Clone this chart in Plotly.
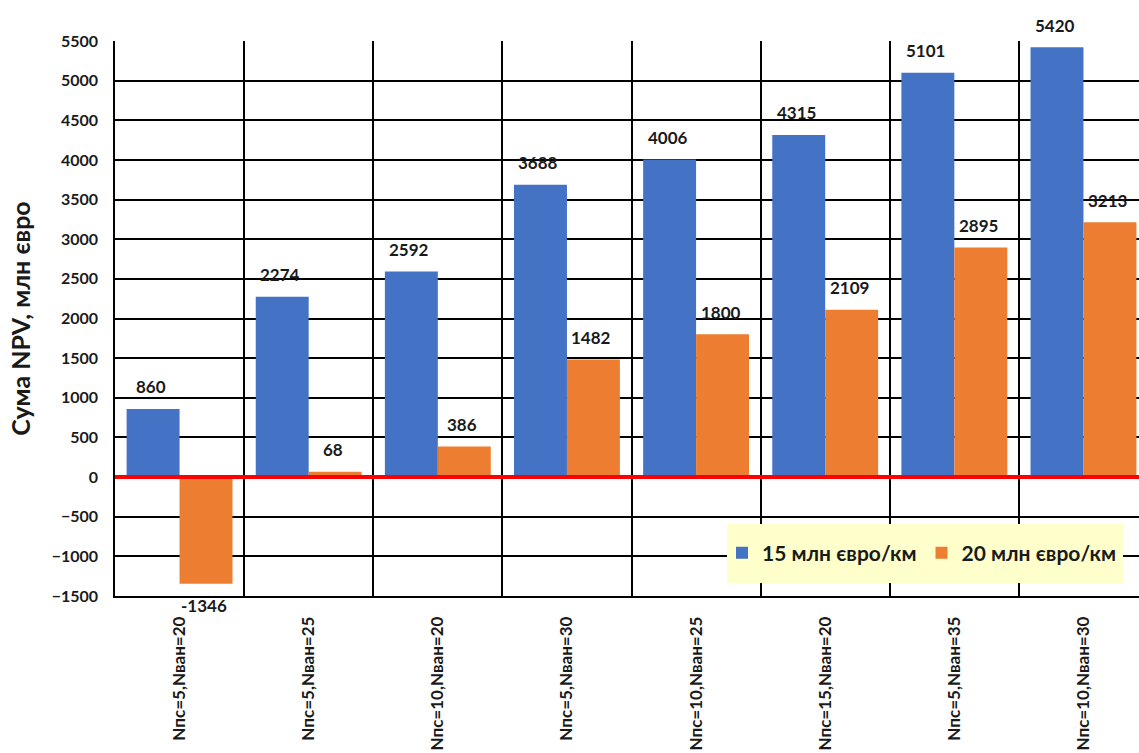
import plotly.graph_objects as go

categories = [
    "Nпс=5,Nван=20", "Nпс=5,Nван=25", "Nпс=10,Nван=20", "Nпс=5,Nван=30",
    "Nпс=10,Nван=25", "Nпс=15,Nван=20", "Nпс=5,Nван=35", "Nпс=10,Nван=30",
]
npv_15 = [860, 2274, 2592, 3688, 4006, 4315, 5101, 5420]
npv_20 = [-1346, 68, 386, 1482, 1800, 2109, 2895, 3213]
series_names = ["15 млн євро/км", "20 млн євро/км"]
y_ticks = list(range(-1500, 5501, 500))

FONT = "Lato"
BLUE = "#4472C4"
ORANGE = "#ED7D31"
INK = "#1a1a1a"
BARGAP = 0.18

xpos = list(range(len(categories)))
half = (1 - BARGAP) / 4  # offset of each bar centre from the category centre

fig = go.Figure()
for name, vals, color, side in [(series_names[0], npv_15, BLUE, -1),
                                (series_names[1], npv_20, ORANGE, 1)]:
    fig.add_trace(go.Bar(
        x=xpos, y=vals, name=name,
        marker=dict(color=color, line=dict(width=0)),
    ))
    # value labels placed a little away from the bar ends
    for xi, v in zip(xpos, vals):
        fig.add_annotation(
            x=xi + side * half, y=v, text=str(v), showarrow=False,
            yshift=22 if v >= 0 else -22, xshift=-2,
            font=dict(family=FONT, size=17, color=INK, weight="bold"),
        )

# legend backdrop
fig.add_shape(type="rect", xref="paper", yref="paper",
              x0=(727 - 115) / 1024, x1=(1123 - 115) / 1024,
              y0=(596 - 583) / 555, y1=(596 - 524) / 555,
              fillcolor="#FFFFCC", line=dict(width=0), layer="above")

# red zero reference line across the plot
fig.add_shape(type="line", xref="paper", yref="y", x0=0, x1=1, y0=0, y1=0,
              line=dict(color="#FF0000", width=4), layer="above")

fig.update_layout(
    width=1139, height=753,
    margin=dict(l=115, r=0, t=41, b=157, autoexpand=False),
    paper_bgcolor="white", plot_bgcolor="white",
    barmode="group", bargap=BARGAP, bargroupgap=0,
    font=dict(family=FONT, color=INK),
    legend=dict(orientation="h", x=(1122 - 115) / 1024, xanchor="right",
                y=(596 - 553) / 555, yanchor="middle",
                bgcolor="rgba(0,0,0,0)",
                font=dict(family=FONT, size=21, color=INK, weight="bold"),
                itemwidth=30, traceorder="normal"),
    xaxis=dict(
        range=[-0.5, 7.43], tickmode="array", tickvals=xpos, ticktext=categories,
        tickangle=-90, tickfont=dict(family=FONT, size=17, color=INK, weight="bold"),
        ticklabelstandoff=12,
        showgrid=False, zeroline=False, showline=True, linecolor="black", linewidth=1.5,
        ticks="", automargin=False,
        minor=dict(tickmode="array", tickvals=[i - 0.5 for i in range(len(categories) + 1)],
                   showgrid=True, gridcolor="black", gridwidth=1.5),
    ),
    yaxis=dict(
        range=[-1500, 5500], tickmode="array", tickvals=y_ticks,
        tickfont=dict(family=FONT, size=16, color=INK, weight="bold"),
        ticklabelstandoff=12,
        showgrid=True, gridcolor="black", gridwidth=1.5,
        zeroline=False,
        showline=True, linecolor="black", linewidth=1.5, ticks="", automargin=False,
        title=dict(text="Сума NPV, млн євро", standoff=14,
                   font=dict(family=FONT, size=25, color=INK, weight="bold")),
    ),
)

fig.write_html("out.html")
